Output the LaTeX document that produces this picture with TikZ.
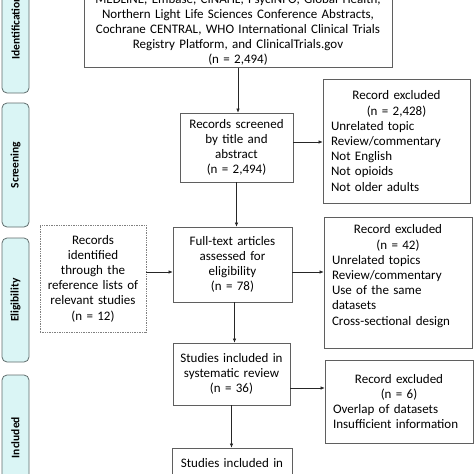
\documentclass[tikz,border=0pt]{standalone}
\usepackage{fontspec}
\setmainfont{Carlito}
\usetikzlibrary{arrows.meta}
\definecolor{sidefill}{RGB}{218,245,245}
\definecolor{sideline}{RGB}{95,108,108}
\definecolor{boxline}{RGB}{95,95,95}
\begin{document}
\begin{tikzpicture}[x=1pt,y=-1pt,
  every node/.style={font=\fontsize{13}{15.2}\selectfont},
  box/.style={draw=boxline, line width=0.7pt, align=center, inner xsep=3pt, inner ysep=2pt},
  exbox/.style={draw=boxline, line width=0.7pt, align=left, inner xsep=8pt, inner ysep=2pt},
  dotbox/.style={box, draw=gray, densely dotted, line width=0.9pt},
  side/.style={draw=sideline, fill=sidefill, rounded corners=5pt, line width=0.8pt,
    minimum width=27pt, inner sep=0pt, font=\fontsize{11.5}{13}\selectfont\bfseries},
  arr/.style={-{Latex[length=4pt,width=3.5pt]}, line width=0.6pt, draw=black!85}]
\useasboundingbox (0,0) rectangle (474,474);

% sidebars
\node[side, minimum height=130pt] (sid) at (15.5,28) {\rotatebox{90}{Identification}};
\node[side, minimum height=124pt] (sscr) at (15.5,165) {\rotatebox{90}{Screening}};
\node[side, minimum height=124pt] (selig) at (15.5,300) {\rotatebox{90}{Eligibility}};
\node[side, minimum height=125pt] (sinc) at (15.5,437.5) {\rotatebox{90}{Included}};

% boxes
\node[box, text width=302pt, anchor=south] (top) at (238,68)
  {MEDLINE, Embase, CINAHL, PsycINFO, Global Health,\\
   Northern Light Life Sciences Conference Abstracts,\\
   Cochrane CENTRAL, WHO International Clinical Trials\\
   Registry Platform, and ClinicalTrials.gov\\
   (n = 2,494)};

\node[box, text width=107pt, minimum height=69pt] (scr) at (236.5,147.5)
  {Records screened\\by title and\\abstract\\(n = 2,494)};

\node[exbox, text width=131pt, minimum height=124pt] (ex1) at (396.5,141)
  {\makebox[131pt]{Record excluded}\\\makebox[131pt]{(n = 2,428)}\\
   Unrelated topic\\Review/commentary\\Not English\\Not opioids\\Not older adults};

\node[dotbox, text width=100pt, minimum height=107pt] (dot) at (93,278.5)
  {Records\\identified\\through the\\reference lists of\\relevant studies\\(n = 12)};

\node[box, text width=113pt, minimum height=75pt] (ft) at (232.5,264.5)
  {Full-text articles\\assessed for\\eligibility\\(n = 78)};

\node[exbox, text width=132pt, minimum height=131pt] (ex2) at (398,282.5)
  {\makebox[132pt]{Record excluded}\\\makebox[132pt]{(n = 42)}\\
   Unrelated topics\\Review/commentary\\Use of the same\\datasets\\Cross-sectional design\\\mbox{}};

\node[box, text width=111pt, minimum height=62pt] (st1) at (231.5,374)
  {Studies included in\\systematic review\\(n = 36)};

\node[exbox, text width=132pt, minimum height=83pt] (ex3) at (399,401.5)
  {\makebox[132pt]{Record excluded}\\\makebox[132pt]{(n = 6)}\\
   Overlap of datasets\\Insufficient information};

\node[box, text width=114pt, minimum height=30pt] (fin) at (232,463)
  {Studies included in};

% connectors
\draw[arr] (top.south) -- (top.south |- scr.north);
\coordinate (a1) at ([yshift=5.5pt]scr.east);
\draw[arr] (a1) -- (a1 -| ex1.west);
\draw[arr] (scr.south) -- (scr.south |- ft.north);
\coordinate (a2) at ([yshift=6.5pt]dot.east);
\draw[arr] (a2) -- (a2 -| ft.west);
\coordinate (a3) at ([yshift=-7.5pt]ft.east);
\draw[arr] (a3) -- (a3 -| ex2.west);
\coordinate (a4) at ([xshift=2pt]ft.south);
\draw[arr] (a4) -- (a4 |- st1.north);
\coordinate (a5) at ([yshift=-14pt]st1.east);
\draw[arr] (a5) -- (a5 -| ex3.west);
\draw[arr] (st1.south) -- (st1.south |- fin.north);
\end{tikzpicture}
\end{document}
